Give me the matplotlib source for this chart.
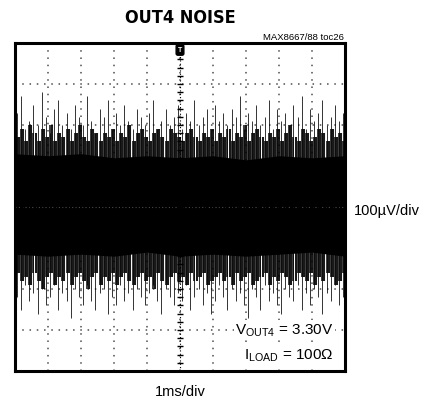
import numpy as np
import matplotlib.pyplot as plt

plt.rcParams['font.family'] = ['Liberation Sans', 'DejaVu Sans']
plt.rcParams['mathtext.fontset'] = 'custom'
plt.rcParams['mathtext.rm'] = 'Liberation Sans'

# scope screen: 10 horizontal divisions (1ms/div), 8 vertical (100uV/div)
n_xdiv = 10
n_ydiv = 8

# noise peaks, in divisions
upper_pk = [2.3, 2.7, 1.9, 2.1, 2.5, 2.0, 2.8, 2.2, 1.8, 2.4,
            2.6, 2.0, 2.3, 1.9, 2.5, 2.2, 2.0, 2.7, 2.1, 1.8,
            2.4, 2.2, 2.6, 1.9, 2.3, 2.0, 2.5, 2.1, 1.9, 2.4,
            2.2, 2.0, 2.3, 2.6, 1.9, 2.1, 2.4, 2.0, 2.2, 2.5,
            1.9, 2.3, 2.1, 2.6, 2.0, 2.2, 2.4, 1.9, 2.5, 2.1,
            2.3, 2.0, 2.4, 2.2, 2.7, 1.9, 2.3, 2.1, 2.5, 2.0,
            2.2, 2.6, 1.9, 2.4, 2.1, 2.3, 2.0, 2.5, 2.2, 2.7,
            1.9, 2.4, 2.1, 2.3, 2.6, 2.0, 2.2, 2.5, 2.1, 2.3]
lower_pk = [-2.2, -2.5, -1.9, -2.3, -2.1, -2.6, -2.0, -2.4, -2.2, -1.9,
            -2.5, -2.1, -2.3, -2.7, -2.0, -2.2, -2.4, -1.9, -2.3, -2.5,
            -2.1, -2.0, -2.6, -2.2, -2.4, -1.9, -2.3, -2.1, -2.5, -2.0,
            -2.2, -2.4, -2.1, -1.9, -2.3, -2.6, -2.0, -2.2, -2.4, -2.1,
            -2.3, -1.9, -2.5, -2.2, -2.0, -2.4, -2.1, -2.6, -2.3, -1.9,
            -2.2, -2.5, -2.0, -2.3, -2.1, -2.4, -2.7, -2.0, -2.2, -2.5,
            -1.9, -2.3, -2.1, -2.4, -2.6, -2.0, -2.2, -2.3, -1.9, -2.5,
            -2.1, -2.4, -2.0, -2.2, -2.6, -2.1, -2.3, -1.9, -2.4, -2.2]
mid_hi = [1.7, 1.9, 1.6, 2.0, 1.8, 1.6, 1.9, 1.7, 2.0, 1.6,
          1.8, 1.7, 1.9, 1.6, 1.8, 2.0, 1.7, 1.6, 1.9, 1.8,
          1.6, 1.8, 1.7, 1.9, 1.6, 1.8, 1.7, 2.0, 1.6, 1.8,
          1.9, 1.7, 1.6, 1.8, 1.9, 1.7, 1.6, 1.9, 1.8, 1.7,
          1.6, 1.8, 1.9, 1.7, 1.6, 1.8, 1.7, 1.9, 1.6, 1.8,
          1.7, 1.9, 1.6, 1.8, 1.7, 2.0, 1.6, 1.8, 1.9, 1.7,
          1.6, 1.8, 1.7, 1.9, 1.6, 1.8, 2.0, 1.7, 1.6, 1.9,
          1.8, 1.6, 1.7, 1.9, 1.8, 1.6, 1.9, 1.7, 1.8, 1.6]
mid_lo = [-1.6, -1.8, -1.7, -1.9, -1.6, -1.8, -2.0, -1.7, -1.6, -1.9,
          -1.7, -1.8, -1.6, -1.9, -1.7, -1.6, -1.8, -2.0, -1.7, -1.6,
          -1.9, -1.7, -1.8, -1.6, -1.9, -1.7, -1.6, -1.8, -1.9, -1.7,
          -1.6, -1.8, -1.7, -2.0, -1.6, -1.8, -1.9, -1.7, -1.6, -1.8,
          -1.7, -1.9, -1.6, -1.8, -1.7, -1.6, -1.9, -1.8, -1.7, -1.6,
          -1.8, -1.7, -1.9, -1.6, -1.8, -1.7, -1.6, -1.9, -1.8, -1.7,
          -1.6, -1.9, -1.7, -1.8, -1.6, -1.7, -1.9, -1.8, -1.6, -1.7,
          -1.8, -1.6, -1.9, -1.7, -1.8, -1.6, -1.7, -1.9, -1.8, -1.6]
# dense core of the band, one value per division boundary
core_x = [0, 1, 2, 3, 4, 5, 6, 7, 8, 9, 10]
core_hi = [1.3, 1.25, 1.3, 1.2, 1.25, 1.2, 1.25, 1.15, 1.25, 1.2, 1.25]
core_lo = [-1.15, -1.2, -1.15, -1.2, -1.1, -1.2, -1.15, -1.2, -1.15, -1.1, -1.2]

fig = plt.figure(figsize=(4.26, 4.06), dpi=100)
ax = fig.add_axes([15/426, 34/406, 330/426, 328/406])
ax.set_xlim(0, n_xdiv)
ax.set_ylim(-n_ydiv/2, n_ydiv/2)
ax.set_xticks([])
ax.set_yticks([])
for s in ax.spines.values():
    s.set_linewidth(2.2)

# dotted graticule
for gx in range(1, n_xdiv):
    ax.axvline(gx, color='0.3', lw=1.1, dashes=(1, 3.75), zorder=1)
for gy in range(-3, 4):
    ax.axhline(gy, color='0.3', lw=1.1, dashes=(1, 3.75), zorder=1)

# noise trace
xs = np.linspace(0.06, 9.94, len(upper_pk))
xm = xs + (xs[1] - xs[0]) / 2
ax.fill_between(core_x, core_lo, core_hi, color='black', lw=0, zorder=2)
ax.vlines(xm[:len(mid_hi)], mid_lo, mid_hi, color='black', lw=1.5,
          alpha=0.9, zorder=2)
ax.vlines(xs, lower_pk, upper_pk, color='black', lw=0.7, alpha=0.8, zorder=2)
ax.vlines(xs, mid_lo, mid_hi, color='black', lw=1.2, alpha=0.9, zorder=2)

# centre cross with minor ticks
ax.axvline(5, color='black', lw=0.8, dashes=(1, 2), zorder=3)
ax.axhline(0, color='0.3', lw=0.8, dashes=(1, 2), zorder=3)
yt = np.arange(-4, 4.01, 0.2)
xt = np.arange(0, 10.01, 0.2)
ax.hlines(yt, 5 - 0.08, 5 + 0.08, color='black', lw=1.0, zorder=3)
ax.vlines(xt, -0.06, 0.06, color='black', lw=1.0, zorder=3)

# trigger marker
ax.text(5, 3.83, 'T', ha='center', va='center', color='white', fontsize=5,
        fontweight='bold', zorder=4,
        bbox=dict(boxstyle='round,pad=0.25', fc='black', ec='black'))

ax.text(9.65, -3.0, 'V$_{\\mathrm{OUT4}}$ = 3.30V', ha='right', va='center',
        fontsize=11, zorder=5,
        bbox=dict(fc='white', ec='none', pad=1))
ax.text(9.65, -3.6, 'I$_{\\mathrm{LOAD}}$ = 100Ω', ha='right', va='center',
        fontsize=11, zorder=5,
        bbox=dict(fc='white', ec='none', pad=1))

fig.text(180/426, 1 - 18/406, 'OUT4 NOISE', ha='center', va='center',
         fontsize=13, fontweight='bold', fontstretch='condensed',
         family='DejaVu Sans')
fig.text(344/426, 1 - 37/406, 'MAX8667/88 toc26', ha='right', va='center',
         fontsize=6.8)
fig.text(354/426, 1 - 211/406, '100µV/div', ha='left', va='center',
         fontsize=10.5)
fig.text(180/426, 1 - 392/406, '1ms/div', ha='center', va='center',
         fontsize=10.5)

fig.savefig('out.png', dpi=100)
